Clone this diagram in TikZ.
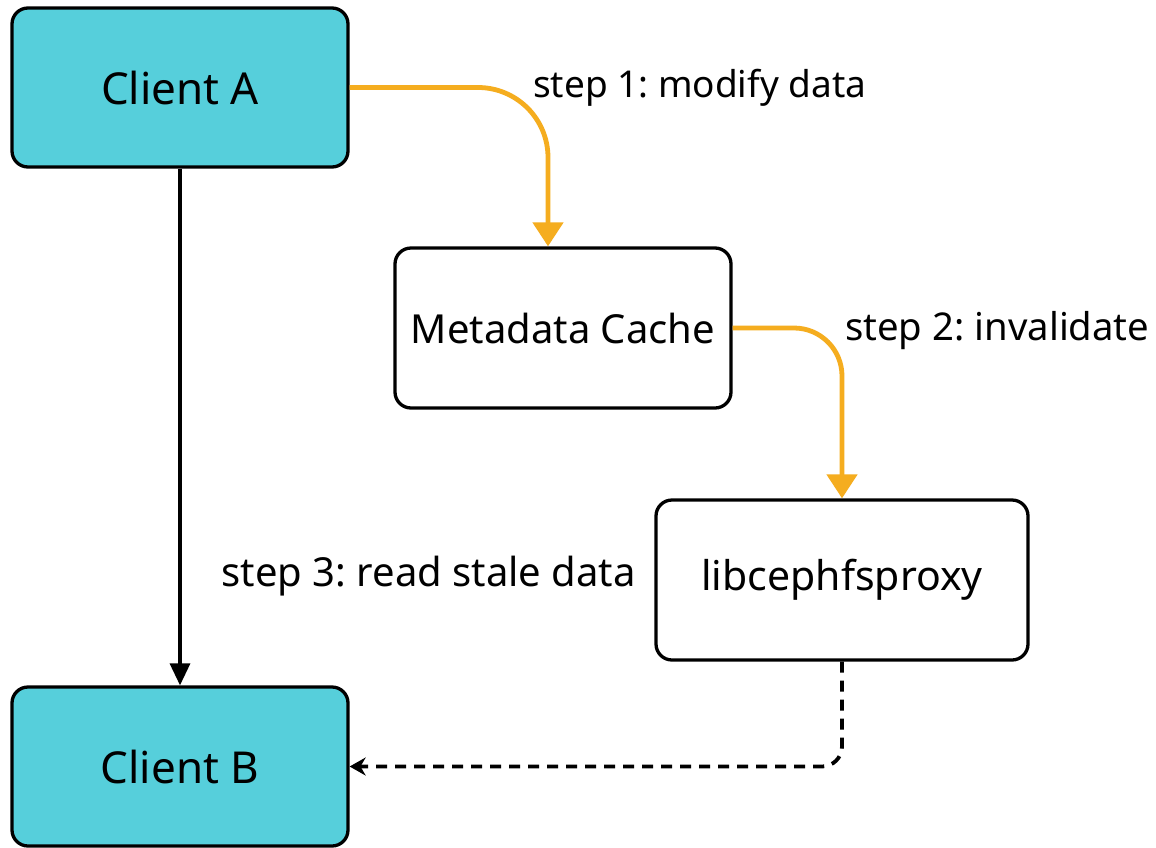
\documentclass[tikz,border=0pt]{standalone}
\usepackage{fontspec}
\setmainfont{Noto Sans}
\usetikzlibrary{arrows.meta}
\definecolor{clientcyan}{HTML}{56CFDB}
\definecolor{flowamber}{HTML}{F5AD1F}
\frenchspacing
\begin{document}
\begin{tikzpicture}[x=1pt,y=-1pt,
  box/.style={draw=black, line width=3.3pt, rounded corners=16pt, minimum width=336pt, minimum height=159pt, inner sep=0pt, font=\fontsize{40}{46}\selectfont},
  client/.style={box, fill=clientcyan, font=\fontsize{44}{50}\selectfont},
  plainbox/.style={box, fill=white},
  amberflow/.style={draw=flowamber, line width=4.8pt, rounded corners=70pt, -{Triangle[width=30pt,length=24pt]}},
  readflow/.style={draw=black, line width=3.4pt, -{Triangle[width=20pt,length=22pt]}},
  dashflow/.style={draw=black, line width=3.8pt, dash pattern=on 11pt off 8pt, rounded corners=20pt, -{Stealth[width=18pt,length=16pt]}},
  steplabel/.style={font=\fontsize{37}{42}\selectfont, inner sep=0pt}]
\useasboundingbox (0,0) rectangle (1156,847);
\fill[white] (0,0) rectangle (1156,847);

\node[client] (clientA) at (180,87.5) {Client A};
\node[client] (clientB) at (180,766.5) {Client B};
\node[plainbox, minimum width=336pt, minimum height=160pt] (cache) at (563,328) {Metadata Cache};
\node[plainbox, minimum width=372pt, minimum height=160pt, font=\fontsize{41}{46}\selectfont] (proxy) at (842,580) {libcephfsproxy};

\draw[amberflow] (clientA.east) -| ([xshift=-15pt]cache.north);
\draw[amberflow, rounded corners=48pt] (cache.east) -| (proxy.north);
\draw[readflow] (clientA.south) -- (clientB.north);
\draw[dashflow] (proxy.south) |- (clientB.east);

\node[steplabel, anchor=west] (s1) at (533,88) {step 1: modify data};
\node[steplabel, anchor=west, font=\fontsize{38.3}{44}\selectfont] (s2) at (845,331) {step 2: invalidate};
\node[steplabel, anchor=east, font=\fontsize{40}{46}\selectfont] (s3) at (636,576) {step 3: read stale data};
\end{tikzpicture}
\end{document}
